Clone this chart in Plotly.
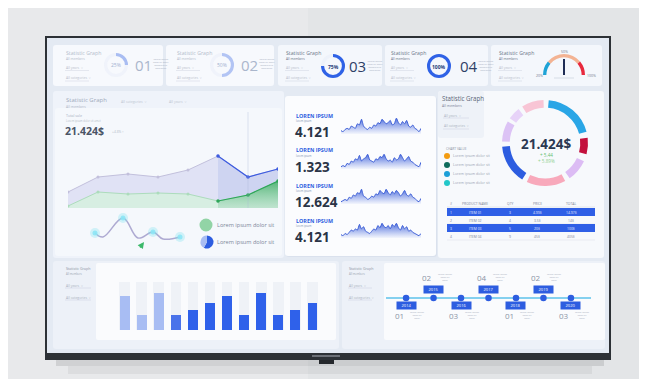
import plotly.graph_objects as go
import math

W, H = 647, 379
FONT = "Open Sans"

# ---------------- data ----------------
donut_pcts = [25, 50, 75, 100]
donut_nums = ["01", "02", "03", "04"]
gauge_segments = [40, 100, 40]          # cool / mid / hot parts of the half ring
gauge_labels = ["20%", "50%", "100%"]
gauge_value = 50

area_labels = ["Jan", "Feb", "Mar", "Apr", "May", "Jun", "Jul", "Aug"]
series_a = [16, 31, 34, 31, 38, 52, 31, 39]
series_b = [2, 16, 14, 15, 14, 7, 13, 27]

wave_x = [0, 8, 28, 43, 58, 68, 85]
wave_y = [17, 13, 32, 12, 18, 11, 13]

kpi_labels = ["LOREN IPSUM", "LOREN IPSUM", "LOREN IPSUM", "LOREN IPSUM"]
kpi_values = ["4.121", "1.323", "12.624", "4.121"]
spark_1 = [3, 2, 4, 5, 4, 7, 6, 5, 9, 8, 13, 7, 5, 4, 6, 5, 8, 7, 10, 9, 13, 11, 9, 10, 12, 8, 9, 14, 10, 8, 11, 9, 12, 7, 6, 8, 5, 4, 2, 5]
spark_2 = [2, 3, 2, 5, 4, 7, 6, 9, 8, 12, 7, 9, 10, 13, 8, 7, 6, 9, 8, 11, 10, 13, 9, 7, 8, 6, 10, 8, 9, 13, 10, 7, 9, 11, 7, 6, 4, 3, 2, 6]
spark_3 = [2, 3, 4, 3, 6, 5, 8, 7, 10, 9, 13, 7, 6, 4, 5, 7, 6, 9, 8, 12, 10, 9, 13, 10, 8, 11, 9, 12, 10, 7, 9, 12, 8, 7, 9, 6, 5, 3, 2, 5]
spark_4 = [3, 2, 4, 3, 5, 7, 6, 8, 7, 12, 8, 10, 6, 5, 4, 6, 8, 7, 11, 9, 13, 10, 9, 11, 8, 12, 10, 13, 9, 7, 11, 8, 10, 6, 7, 5, 4, 3, 2, 4]

ring_values = [5, 70, 8, 22, 10, 30, 7, 53, 7, 53, 7, 28, 5, 17, 6, 30, 2]
ring_colors = ["rgba(0,0,0,0)", "#2aa6e6", "rgba(0,0,0,0)", "#c3113d", "rgba(0,0,0,0)", "#dcbcf4",
               "rgba(0,0,0,0)", "#f8a9bb", "rgba(0,0,0,0)", "#2d5de0", "rgba(0,0,0,0)", "#dcc3f5",
               "rgba(0,0,0,0)", "#e7d3f8", "rgba(0,0,0,0)", "#f8c5d5", "rgba(0,0,0,0)"]
ring_total = "21.424$"
ring_delta = ["+ 5.44", "+ 5.89%"]

legend_items = ["Lorem ipsum dolor sit"] * 4
legend_colors = ["#f39c12", "#0e6b5c", "#1c9fd8", "#22c7c9"]

table_cols = ["#", "PRODUCT NAME", "QTY", "PRICE", "TOTAL"]
tbl_idx = ["1", "2", "3", "4"]
tbl_name = ["ITEM 01", "ITEM 02", "ITEM 03", "ITEM 04"]
tbl_qty = ["3", "4", "5", "9"]
tbl_price = ["4.99$", "3.5$", "20$", "45$"]
tbl_total = ["14.97$", "14$", "100$", "405$"]

bar_labels = list(range(1, 13))
bar_values = [34, 15, 37, 15, 20, 27, 34, 15, 37, 15, 20, 27]
bar_max = 48

years = [2014, 2015, 2016, 2017, 2018, 2019, 2020]
year_nums = ["01", "02", "03", "04", "01", "02", "03"]

# ---------------- helpers ----------------
def px(x):
    return x / W

def py(y):
    return 1 - y / H

shapes = []
annotations = []

def rrect(x0, y0, x1, y1, fill, r=0, line=None, lw=0, layer="below"):
    if r == 0:
        shapes.append(dict(type="rect", xref="paper", yref="paper", x0=px(x0), x1=px(x1),
                           y0=py(y1), y1=py(y0), fillcolor=fill,
                           line=dict(color=line or "rgba(0,0,0,0)", width=lw), layer=layer))
        return
    P = lambda x, y: f"{px(x):.5f},{py(y):.5f}"
    path = (f"M {P(x0 + r, y0)} L {P(x1 - r, y0)} Q {P(x1, y0)} {P(x1, y0 + r)} "
            f"L {P(x1, y1 - r)} Q {P(x1, y1)} {P(x1 - r, y1)} L {P(x0 + r, y1)} "
            f"Q {P(x0, y1)} {P(x0, y1 - r)} L {P(x0, y0 + r)} Q {P(x0, y0)} {P(x0 + r, y0)} Z")
    shapes.append(dict(type="path", xref="paper", yref="paper", path=path, fillcolor=fill,
                       line=dict(color=line or "rgba(0,0,0,0)", width=lw), layer=layer))

def circle(cx, cy, r, fill, layer="above"):
    shapes.append(dict(type="circle", xref="paper", yref="paper", x0=px(cx - r), x1=px(cx + r),
                       y0=py(cy + r), y1=py(cy - r), fillcolor=fill,
                       line=dict(width=0), layer=layer))

def hline(x0, x1, y, color, w=0.6):
    shapes.append(dict(type="line", xref="paper", yref="paper", x0=px(x0), x1=px(x1),
                       y0=py(y), y1=py(y), line=dict(color=color, width=w), layer="above"))

def text(x, y, s, size, color, bold=False, anchor="left", family=FONT):
    annotations.append(dict(xref="paper", yref="paper", x=px(x), y=py(y),
                            text=f"<b>{s}</b>" if bold else s, showarrow=False,
                            xanchor=anchor, yanchor="middle", borderpad=0,
                            font=dict(size=size, color=color, family=family)))

def dropdown(x, y, label, color="#aab3c2", w=26):
    text(x, y, label + "  \u02c5", 3.4, color)
    hline(x, x + w, y + 3, "rgba(170,180,200,0.5)", 0.5)

# ---------------- background / TV ----------------
rrect(0, 0, 647, 379, "#e3e5e7")
rrect(0, 0, 300, 379, "rgba(255,255,255,0.18)")
rrect(48, 352, 596, 358, "rgba(0,0,0,0.10)")
rrect(60, 358, 584, 366, "rgba(0,0,0,0.05)")
rrect(37, 28, 603, 352, "#2d3136")
rrect(39, 30, 601, 345, "#e4eaf3")
rrect(304, 347, 332, 349, "#6c7077")
rrect(311, 352, 326, 356, "#25282c")

# ---------------- panels ----------------
card_boxes = [(45, 37, 155, 78), (158, 37, 266, 78), (270, 37, 374, 78), (377, 37, 480, 78), (483, 37, 594, 78)]
card_fill = ["#f7f9fd", "#f7f9fd", "#f4f7fc", "#f4f7fc", "#f4f7fc"]
for (x0, y0, x1, y1), f in zip(card_boxes, card_fill):
    rrect(x0, y0, x1, y1, f, r=3)

rrect(45, 83, 276, 250, "#eff3fa", r=3)
rrect(47, 100, 274, 248, "#f5f8fc", r=3)
rrect(278, 89, 429, 249, "rgba(150,165,200,0.12)", r=3)
rrect(277, 88, 428, 248, "#fbfcfe", r=3)
rrect(430, 83, 596, 250, "#f7f9fc", r=3)
rrect(430, 83, 476, 130, "#eef2f8", r=3)
rrect(45, 253, 331, 341, "#edf1f8", r=3)
rrect(88, 255, 328, 332, "#fafbfd", r=2)
rrect(334, 253, 597, 341, "#edf1f8", r=3)
rrect(376, 255, 597, 332, "#fafbfd", r=2)

fig = go.Figure()

# ---------------- top cards ----------------
t_gray = ["#b3bccb", "#b3bccb", "#6b7588", "#6b7588", "#6b7588"]
title_x = [57, 168, 277, 382, 490]
for i, tx in enumerate(title_x):
    text(tx, 44.5, "Statistic Graph", 5.2, t_gray[i])
    text(tx, 50.5, "All members", 3.2, t_gray[i])
    dropdown(tx, 59.5, "All years", color="#b8c0cc", w=24)
    dropdown(tx, 70, "All categories", color="#b8c0cc", w=24)

donut_centers = [(108, 57), (214, 57), (325, 58), (431, 58)]
donut_cols = ["#a9bdf2", "#b2c4f4", "#2f62e6", "#2f62e6"]
donut_txt = ["#9fb0d0", "#9fb0d0", "#243b78", "#243b78"]
num_cols = ["#aab6cc", "#aab6cc", "#2e3f66", "#2e3f66"]
num_x = [126, 232, 340, 451]
for (cx, cy), pct, col, tc, nx, nc, num in zip(donut_centers, donut_pcts, donut_cols, donut_txt,
                                             num_x, num_cols, donut_nums):
    r = 12
    fig.add_trace(go.Pie(values=[pct, 100 - pct], marker=dict(colors=[col, "rgba(225,232,246,0.35)"], line=dict(width=0)),
                         hole=0.74, domain=dict(x=[px(cx - r), px(cx + r)], y=[py(cy + r), py(cy - r)]),
                         sort=False, direction="clockwise", rotation=0, textinfo="none",
                         hoverinfo="skip", showlegend=False))
    text(cx, cy + 0.5, f"{pct}%", 5, tc, bold=(pct >= 75), anchor="center")
    text(nx, cy, num, 15, nc, anchor="left")
    text(nx + 18, cy - 1, "Lorem ipsum<br>dolor sit amet<br>consectetur<br>adipiscing",
         2.4, "#a7b0bf")

# gauge
gcx, gcy, gr = 556, 67, 21
fig.add_trace(go.Pie(values=gauge_segments + [sum(gauge_segments)],
                     marker=dict(colors=["#1ea3d6", "#f3b393", "#e8293d", "rgba(0,0,0,0)"], line=dict(width=0)),
                     hole=0.84, domain=dict(x=[px(gcx - gr), px(gcx + gr)], y=[py(gcy + gr), py(gcy - gr)]),
                     sort=False, direction="clockwise", rotation=270, textinfo="none",
                     hoverinfo="skip", showlegend=False))
ang = math.pi * (1 - gauge_value / 100)
shapes.append(dict(type="line", xref="paper", yref="paper", x0=px(gcx), y0=py(gcy),
                   x1=px(gcx + 16 * math.cos(ang)), y1=py(gcy - 16 * math.sin(ang)),
                   line=dict(color="#1f2d55", width=2), layer="above"))
text(gcx - 25, gcy + 1, gauge_labels[0], 3.5, "#6b7588", anchor="center")
text(gcx, gcy - 23, gauge_labels[1], 3.5, "#6b7588", anchor="center")
text(gcx + 27, gcy + 1, gauge_labels[2], 3.5, "#6b7588", anchor="center")
hline(gcx - 10, gcx + 10, gcy + 3, "rgba(150,160,180,0.6)", 0.5)

# ---------------- middle-left panel ----------------
text(57, 91.5, "Statistic Graph", 6, "#a0aabb")
text(57, 98, "All members", 3.4, "#b0b8c6")
text(112, 93, "All categories  \u02c5", 3.5, "#c0c7d2")
text(160, 93, "All years  \u02c5", 3.5, "#c0c7d2")
text(57, 107.5, "Total sale", 3.6, "#a6afbf")
text(57, 112.5, "Lorem ipsum dolor sit amet", 2.7, "#b6bdc9")
text(56, 123, "21.424$", 10.5, "#4a5466", bold=True)
text(103, 123, "+4.8% \u2191", 3.3, "#b6bdc9")

# area chart
ix = list(range(len(area_labels)))
fig.add_trace(go.Scatter(x=ix, y=series_a, mode="lines+markers", xaxis="x", yaxis="y",
                         line=dict(color="#c2c0dc", width=1), marker=dict(size=3, color="#c2c0dc"),
                         fill="tozeroy", fillcolor="rgba(205,208,238,0.55)", hoverinfo="skip", showlegend=False))
fig.add_trace(go.Scatter(x=ix[5:], y=series_a[5:], mode="lines+markers", xaxis="x", yaxis="y",
                         line=dict(color="#3d5ce0", width=1.2), marker=dict(size=3.5, color="#3d5ce0"),
                         fill="tozeroy", fillcolor="rgba(130,150,230,0.18)", hoverinfo="skip", showlegend=False))
fig.add_trace(go.Scatter(x=ix, y=series_b, mode="lines+markers", xaxis="x", yaxis="y",
                         line=dict(color="#acdcbc", width=1), marker=dict(size=3, color="#acdcbc"),
                         fill="tozeroy", fillcolor="rgba(214,238,224,0.95)", hoverinfo="skip", showlegend=False))
fig.add_trace(go.Scatter(x=ix[5:], y=series_b[5:], mode="lines+markers", xaxis="x", yaxis="y",
                         line=dict(color="#2ea55a", width=1.2), marker=dict(size=3.5, color="#2ea55a"),
                         fill="tozeroy",
                         fillgradient=dict(type="vertical", colorscale=[[0, "rgba(120,200,150,0.25)"], [1, "rgba(60,170,100,0.85)"]]),
                         hoverinfo="skip", showlegend=False))
shapes.append(dict(type="line", xref="x", yref="y domain", x0=6, x1=6, y0=0, y1=1.6,
                   line=dict(color="rgba(170,180,215,0.45)", width=0.8), layer="above"))

# wave
fig.add_trace(go.Scatter(x=wave_x, y=wave_y, mode="lines", xaxis="x2", yaxis="y2",
                         line=dict(color="#aeaad2", width=1.5, shape="spline", smoothing=1.1),
                         hoverinfo="skip", showlegend=False))
mk = [0, 2, 4, 6]
fig.add_trace(go.Scatter(x=[wave_x[i] for i in mk], y=[wave_y[i] for i in mk], mode="markers",
                         xaxis="x2", yaxis="y2", marker=dict(size=10, color="rgba(120,225,240,0.3)"),
                         hoverinfo="skip", showlegend=False))
fig.add_trace(go.Scatter(x=[wave_x[i] for i in mk], y=[wave_y[i] for i in mk], mode="markers",
                         xaxis="x2", yaxis="y2", marker=dict(size=5, color="rgba(140,230,245,0.9)"),
                         hoverinfo="skip", showlegend=False))
annotations.append(dict(xref="paper", yref="paper", x=px(136), y=py(234), ax=-5, ay=7, text="",
                        showarrow=True, arrowhead=2, arrowsize=0.8, arrowwidth=1.6, arrowcolor="#3cb96a"))

# legend of the left panel
circle(198, 217, 6.5, "#92d4a6")
fig.add_trace(go.Pie(values=[58, 42], marker=dict(colors=["#2d5de0", "#a9bdf2"], line=dict(width=0)),
                     domain=dict(x=[px(192.5), px(205.5)], y=[py(240.5), py(227.5)]),
                     sort=False, direction="clockwise", rotation=0, textinfo="none",
                     hoverinfo="skip", showlegend=False))
text(208, 217, "Lorem ipsum dolor sit", 5.6, "#7d879a")
text(208, 234, "Lorem ipsum dolor sit", 5.6, "#7d879a")

# ---------------- middle-centre KPI card ----------------
spark_sets = [spark_1, spark_2, spark_3, spark_4]
label_y = [107.5, 142.5, 177.5, 212.5]
for k, (lab, val, sp, ly) in enumerate(zip(kpi_labels, kpi_values, spark_sets, label_y)):
    text(287, ly, lab, 5.4, "#2d5de0", bold=True)
    text(287, ly + 5.6, "lorem ipsum", 2.6, "#8090b0")
    text(286, ly + 16.8, val, 13.5, "#2a3446", bold=True)
    xa = f"x{k + 3}"
    ya = f"y{k + 3}"
    fig.add_trace(go.Scatter(x=list(range(len(sp))), y=sp, mode="lines", xaxis=xa, yaxis=ya,
                             line=dict(color="#3d5fd8", width=1, shape="spline", smoothing=0.5),
                             fill="tozeroy",
                             fillgradient=dict(type="vertical", colorscale=[[0, "rgba(90,120,225,0.05)"], [1, "rgba(60,95,216,0.9)"]]),
                             hoverinfo="skip", showlegend=False))

# ---------------- right panel ----------------
text(433, 91, "Statistic Graph", 6.2, "#5b6577")
text(433, 97.5, "All members", 3.4, "#7b8597")
dropdown(435, 107, "All years")
dropdown(435, 118, "All categories")
text(437, 141, "CHART VALUE", 3.2, "#8a93a3")
for i, (lab, col) in enumerate(zip(legend_items, legend_colors)):
    yy = 148 + i * 9
    circle(439, yy, 3, col)
    text(444, yy, lab, 3.6, "#9aa3b2")

rcx, rcy, rr = 537, 135, 43
fig.add_trace(go.Pie(values=ring_values, marker=dict(colors=ring_colors, line=dict(width=0)), hole=0.82,
                     domain=dict(x=[px(rcx - rr), px(rcx + rr)], y=[py(rcy + rr), py(rcy - rr)]),
                     sort=False, direction="clockwise", rotation=0, textinfo="none",
                     hoverinfo="skip", showlegend=False))
text(rcx + 1, rcy + 1, ring_total, 13.5, "#2b3852", bold=True, anchor="center")
text(rcx + 1, rcy + 12, ring_delta[0], 4.6, "#63c06f", anchor="center")
text(rcx + 1, rcy + 18, ring_delta[1], 4.6, "#8fd18f", anchor="center")

# table
col_x = [443, 467, 502, 529, 563]
for cx_, lab in zip(col_x, table_cols):
    text(cx_, 195, lab, 3.4, "#7b8597", anchor="center")
hline(439, 587, 199, "rgba(180,190,210,0.6)", 0.5)
rows = list(zip(tbl_idx, tbl_name, tbl_qty, tbl_price, tbl_total))
for r_i, row in enumerate(rows):
    yy = 204 + r_i * 8
    hi = (r_i % 2 == 0)
    if hi:
        rrect(439, yy - 4, 587, yy + 4, "#2f5fe6", layer="above")
    else:
        hline(439, 587, yy + 4, "rgba(190,198,215,0.6)", 0.4)
    for cx_, v in zip(col_x, row):
        text(cx_, yy, v, 3.4, "#e8eeff" if hi else "#7b8597", anchor="center")

# ---------------- bottom-left bar chart ----------------
text(57, 260.5, "Statistic Graph", 3.6, "#8a93a3")
text(57, 266, "All members", 2.7, "#9aa3b2")
dropdown(57, 277, "All years")
dropdown(57, 289, "All categories")
fig.add_trace(go.Bar(x=bar_labels, y=[bar_max] * len(bar_labels), xaxis="x7", yaxis="y7", width=0.62,
                     marker=dict(color="#eff2f7", line=dict(width=0)), hoverinfo="skip", showlegend=False))
bar_cols = ["#a8bdf3", "#a8bdf3", "#a8bdf3", "#4a73ea"] + ["#2f61ea"] * 8
fig.add_trace(go.Bar(x=bar_labels, y=bar_values, xaxis="x7", yaxis="y7", width=0.58,
                     marker=dict(color=bar_cols, line=dict(width=0)), hoverinfo="skip", showlegend=False))

# ---------------- bottom-right timeline ----------------
text(340, 260.5, "Statistic Graph", 3.6, "#8a93a3")
text(340, 266, "All members", 2.7, "#9aa3b2")
dropdown(340, 277, "All years", w=24)
dropdown(340, 289, "All categories", w=24)
shapes.append(dict(type="line", xref="x8 domain", yref="y8", x0=0, x1=1, y0=0, y1=0,
                   line=dict(color="#5cc2ea", width=1.4), layer="below"))
fig.add_trace(go.Scatter(x=years, y=[0] * len(years), mode="markers", xaxis="x8", yaxis="y8",
                         marker=dict(size=6.5, color="#2d5de0"), hoverinfo="skip", showlegend=False))
for i, (yr, num) in enumerate(zip(years, year_nums)):
    above = (i % 2 == 1)
    annotations.append(dict(xref="x8", yref="y8", x=yr, y=0.36 if above else -0.28, text=str(yr),
                            showarrow=False, bgcolor="#2d5de0", borderpad=1, width=17, height=5,
                            font=dict(size=4, color="white", family=FONT)))
    annotations.append(dict(xref="x8", yref="y8", x=yr, y=0.84 if above else -0.68, text=num,
                            showarrow=False, xanchor="right", xshift=0,
                            font=dict(size=8, color="#8a94a6", family=FONT)))
    annotations.append(dict(xref="x8", yref="y8", x=yr, y=0.84 if above else -0.68,
                            text="lorem ipsum<br>dolor sit<br>amet", showarrow=False, xanchor="left", xshift=2,
                            font=dict(size=2.4, color="#a9b1bf", family=FONT)))

# ---------------- layout ----------------
layout = dict(
    width=W, height=H, margin=dict(l=0, r=0, t=0, b=0),
    paper_bgcolor="#e3e5e7", plot_bgcolor="rgba(0,0,0,0)",
    barmode="overlay", bargap=0, showlegend=False,
    shapes=shapes, annotations=annotations,
    font=dict(family=FONT),
)
layout["xaxis"] = dict(domain=[px(60), px(270)], range=[0, 7], visible=False, fixedrange=True, anchor="y")
layout["yaxis"] = dict(domain=[py(200), py(140)], range=[0, 60], visible=False, fixedrange=True, anchor="x")
layout["xaxis2"] = dict(domain=[px(82), px(180)], range=[-5, 93], visible=False, fixedrange=True, anchor="y2")
layout["yaxis2"] = dict(domain=[py(242), py(203)], range=[0, 39], visible=False, fixedrange=True, anchor="x2")
bases = [126, 161, 196, 230]
for k, b in enumerate(bases):
    n = k + 3
    layout[f"xaxis{n}"] = dict(domain=[px(333), px(413)], range=[0, len(spark_1) - 1], visible=False,
                               fixedrange=True, anchor=f"y{n}")
    layout[f"yaxis{n}"] = dict(domain=[py(b), py(b - 17)], range=[0, 15], visible=False,
                               fixedrange=True, anchor=f"x{n}")
layout["xaxis7"] = dict(domain=[px(108), px(313)], range=[0.5, 12.5], visible=False, fixedrange=True, anchor="y7")
layout["yaxis7"] = dict(domain=[py(322), py(270)], range=[0, 52], visible=False, fixedrange=True, anchor="x7")
layout["xaxis8"] = dict(domain=[px(378), px(583)], range=[2013.27, 2020.73], visible=False, fixedrange=True, anchor="y8")
layout["yaxis8"] = dict(domain=[py(315), py(265)], range=[-1, 1], visible=False, fixedrange=True, anchor="x8")

fig.update_layout(**layout)
fig.write_html("out.html")
